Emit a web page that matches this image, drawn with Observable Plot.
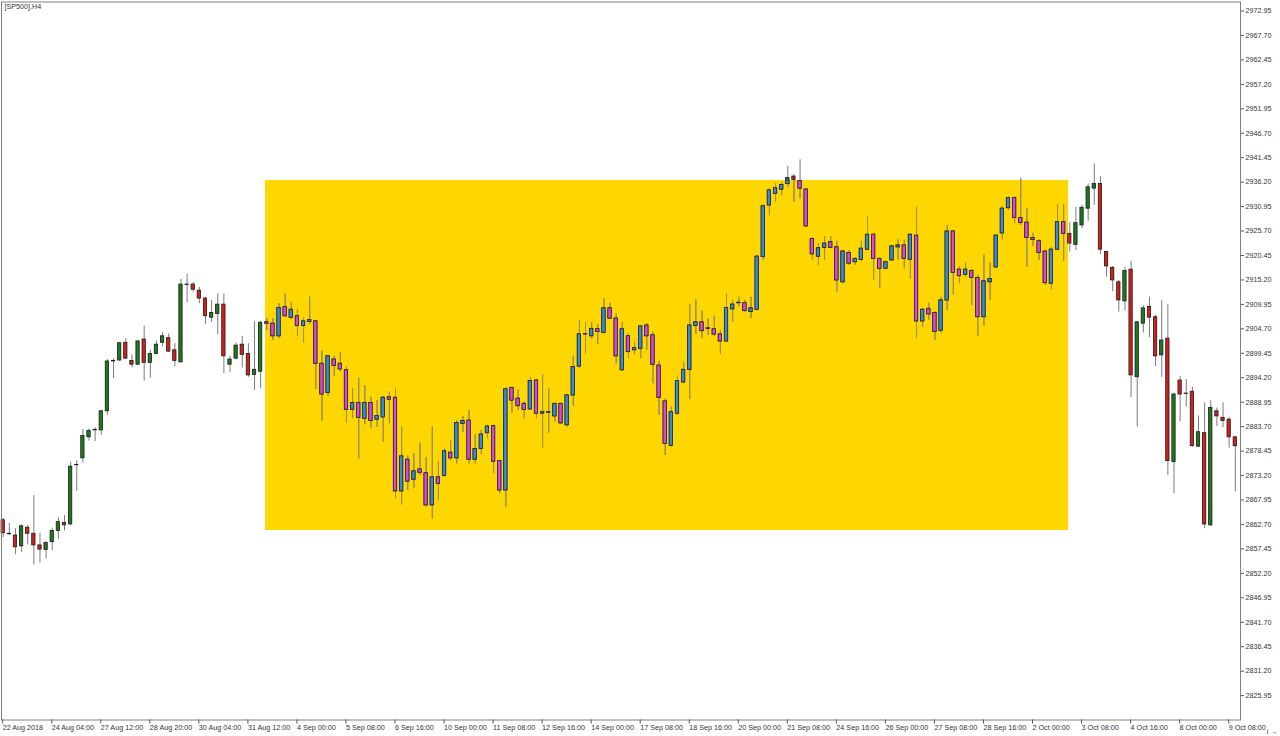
<!DOCTYPE html>
<html>
<head>
<meta charset="utf-8">
<script src="https://cdn.jsdelivr.net/npm/d3@7"></script>
<script src="https://cdn.jsdelivr.net/npm/@observablehq/plot@0.6"></script>
<style>
  html, body { margin: 0; padding: 0; background: #fff; }
  #chart svg { display: block; }
</style>
</head>
<body>
<div id="chart"></div>
<script>
// SP500 H4 bars, 22 Aug 2018 20:00 -> 9 Oct 2018 12:00
const opens = [
  2863.6, 2860.7, 2860.3, 2858.0, 2862.0, 2860.7, 2858.2, 2857.2, 2858.9, 2861.3,
  2863.0, 2862.7, 2875.4, 2876.9, 2881.4, 2882.9, 2882.9, 2887.0, 2897.7, 2897.9,
  2901.7, 2897.8, 2897.0, 2902.4, 2897.4, 2899.3, 2901.7, 2902.7, 2900.1, 2897.5,
  2914.1, 2914.2, 2912.9, 2911.2, 2907.1, 2907.9, 2909.9, 2897.0, 2898.3, 2901.3,
  2899.3, 2894.8, 2895.5, 2906.1, 2905.8, 2903.1, 2909.4, 2907.1, 2907.4, 2905.3,
  2906.2, 2906.3, 2897.2, 2890.9, 2898.1, 2897.2, 2895.8, 2887.3, 2888.8, 2885.4,
  2888.8, 2885.2, 2885.7, 2890.0, 2889.9, 2869.8, 2876.6, 2872.3, 2874.5, 2873.7,
  2866.8, 2872.8, 2873.1, 2878.1, 2876.9, 2884.3, 2885.0, 2876.6, 2878.9, 2882.3,
  2883.8, 2876.3, 2870.0, 2892.0, 2889.7, 2888.6, 2887.4, 2893.6, 2886.5, 2886.7,
  2885.9, 2888.6, 2884.0, 2890.4, 2896.6, 2903.5, 2903.1, 2904.6, 2903.8, 2909.1,
  2906.9, 2895.8, 2903.1, 2900.1, 2900.4, 2905.4, 2903.3, 2896.8, 2889.1, 2879.6,
  2886.5, 2893.2, 2895.9, 2905.3, 2906.1, 2904.8, 2904.6, 2903.5, 2902.0, 2908.9,
  2910.2, 2910.2, 2908.3, 2908.8, 2920.1, 2931.2, 2933.7, 2934.6, 2935.8, 2937.4,
  2936.4, 2934.6, 2924.0, 2920.2, 2922.1, 2923.3, 2922.2, 2914.7, 2921.0, 2919.0,
  2919.5, 2921.7, 2924.9, 2919.7, 2917.6, 2919.4, 2922.2, 2922.6, 2919.5, 2924.7,
  2906.3, 2909.0, 2908.1, 2904.3, 2910.8, 2925.6, 2917.4, 2916.3, 2917.1, 2915.6,
  2907.2, 2914.7, 2917.9, 2925.2, 2930.6, 2932.8, 2928.5, 2927.5, 2924.2, 2923.5,
  2921.3, 2914.4, 2921.7, 2927.6, 2925.1, 2922.7, 2926.9, 2930.5, 2934.8, 2935.8,
  2921.2, 2917.8, 2914.7, 2910.6, 2917.4, 2894.3, 2905.8, 2909.4, 2907.2, 2899.0,
  2902.6, 2876.1, 2893.6, 2890.8, 2891.2, 2879.4, 2882.3, 2862.5, 2887.0, 2885.6,
  2885.2, 2881.4
];
const highs = [
  2864.0, 2862.9, 2861.8, 2862.6, 2862.5, 2868.9, 2860.8, 2859.0, 2861.9, 2864.1,
  2864.6, 2876.1, 2876.4, 2883.1, 2883.2, 2883.5, 2887.2, 2898.1, 2898.3, 2901.8,
  2902.6, 2899.1, 2902.1, 2905.3, 2900.1, 2902.1, 2903.9, 2903.6, 2901.5, 2915.3,
  2916.5, 2914.7, 2913.6, 2911.5, 2910.8, 2912.2, 2912.2, 2898.8, 2901.7, 2903.1,
  2901.5, 2906.3, 2906.3, 2906.9, 2906.9, 2910.1, 2912.2, 2910.4, 2908.8, 2907.0,
  2911.5, 2906.5, 2899.9, 2899.0, 2898.8, 2899.6, 2896.5, 2891.8, 2894.1, 2892.5,
  2890.0, 2889.3, 2890.2, 2891.1, 2891.8, 2883.6, 2877.4, 2877.9, 2880.2, 2877.1,
  2883.7, 2876.2, 2878.9, 2880.7, 2885.0, 2885.9, 2887.2, 2882.0, 2882.9, 2884.0,
  2884.0, 2876.4, 2892.0, 2892.2, 2891.5, 2889.0, 2894.3, 2893.8, 2894.8, 2891.8,
  2888.7, 2888.7, 2890.6, 2898.8, 2906.5, 2906.0, 2906.0, 2905.6, 2911.2, 2910.2,
  2907.9, 2906.1, 2903.6, 2901.8, 2905.4, 2905.8, 2904.0, 2897.7, 2889.7, 2887.9,
  2894.5, 2897.5, 2909.9, 2910.9, 2908.5, 2906.9, 2907.4, 2904.3, 2912.2, 2910.8,
  2911.5, 2910.8, 2911.5, 2920.5, 2931.3, 2934.8, 2935.8, 2936.0, 2939.6, 2937.8,
  2941.0, 2934.8, 2924.2, 2923.0, 2924.5, 2924.5, 2923.5, 2921.5, 2921.5, 2920.0,
  2923.5, 2928.8, 2925.1, 2920.0, 2919.2, 2922.6, 2923.8, 2923.7, 2925.1, 2930.8,
  2909.0, 2910.2, 2908.4, 2911.5, 2926.9, 2925.8, 2918.1, 2918.8, 2917.4, 2916.2,
  2920.5, 2918.8, 2924.9, 2931.0, 2933.0, 2933.0, 2937.1, 2930.5, 2925.2, 2923.8,
  2921.5, 2922.2, 2931.4, 2931.4, 2927.5, 2930.8, 2931.2, 2935.8, 2940.1, 2937.4,
  2921.3, 2918.1, 2915.1, 2917.9, 2919.2, 2906.3, 2909.7, 2911.5, 2907.6, 2910.8,
  2909.9, 2890.9, 2894.5, 2893.8, 2892.2, 2886.0, 2888.8, 2889.3, 2887.7, 2888.8,
  2885.7, 2881.6
];
const lows = [
  2859.9, 2860.3, 2856.2, 2856.7, 2858.3, 2854.0, 2854.4, 2855.3, 2857.1, 2859.5,
  2861.3, 2862.5, 2869.8, 2875.9, 2880.6, 2880.5, 2881.8, 2886.1, 2894.0, 2897.7,
  2898.1, 2896.3, 2896.8, 2893.5, 2894.1, 2899.1, 2900.8, 2899.7, 2896.5, 2897.4,
  2910.3, 2912.6, 2910.1, 2905.6, 2906.1, 2903.4, 2895.1, 2895.3, 2898.0, 2896.3,
  2894.3, 2891.5, 2891.8, 2904.3, 2902.2, 2902.6, 2907.2, 2906.7, 2903.1, 2901.6,
  2905.6, 2891.7, 2884.9, 2890.2, 2894.5, 2895.4, 2884.4, 2885.4, 2876.8, 2884.1,
  2883.4, 2883.5, 2880.4, 2884.3, 2868.2, 2866.9, 2870.0, 2870.4, 2873.2, 2866.4,
  2863.9, 2867.8, 2872.8, 2876.4, 2875.7, 2882.5, 2875.7, 2875.7, 2877.7, 2881.1,
  2873.7, 2869.3, 2866.3, 2886.6, 2887.2, 2885.4, 2887.2, 2885.4, 2879.1, 2882.3,
  2884.7, 2884.3, 2883.6, 2888.1, 2896.3, 2899.3, 2902.4, 2901.3, 2903.6, 2906.7,
  2897.2, 2895.6, 2898.3, 2899.1, 2898.3, 2900.1, 2892.9, 2886.1, 2877.5, 2879.3,
  2886.1, 2892.9, 2889.5, 2903.5, 2902.6, 2903.3, 2903.1, 2899.2, 2901.8, 2906.1,
  2909.4, 2908.3, 2906.9, 2908.6, 2919.4, 2929.0, 2931.9, 2933.3, 2935.0, 2931.9,
  2932.6, 2926.5, 2919.5, 2918.3, 2919.4, 2921.9, 2912.6, 2914.4, 2918.3, 2918.3,
  2919.2, 2921.5, 2915.2, 2913.3, 2917.4, 2919.2, 2919.5, 2917.6, 2915.4, 2902.6,
  2905.0, 2906.5, 2902.2, 2903.8, 2908.6, 2912.0, 2914.4, 2915.8, 2909.7, 2903.1,
  2905.2, 2910.8, 2917.7, 2923.8, 2930.1, 2927.3, 2926.9, 2917.9, 2922.4, 2919.4,
  2914.0, 2913.1, 2921.5, 2919.2, 2921.2, 2921.5, 2926.2, 2927.8, 2931.2, 2920.7,
  2915.8, 2912.7, 2908.3, 2908.6, 2889.9, 2883.6, 2903.8, 2902.8, 2896.6, 2894.3,
  2873.2, 2869.3, 2884.7, 2887.9, 2879.3, 2879.2, 2861.8, 2862.3, 2883.7, 2883.5,
  2879.1, 2869.7
];
const closes = [
  2860.8, 2860.6, 2857.8, 2862.3, 2860.7, 2858.2, 2857.3, 2858.7, 2861.3, 2863.2,
  2862.5, 2875.1, 2875.5, 2881.7, 2882.8, 2883.0, 2887.0, 2897.7, 2897.8, 2901.6,
  2898.3, 2897.0, 2902.0, 2897.4, 2899.3, 2901.3, 2903.1, 2899.8, 2897.8, 2914.2,
  2914.2, 2913.1, 2911.2, 2907.4, 2908.1, 2909.9, 2898.8, 2898.1, 2901.1, 2899.1,
  2894.7, 2895.9, 2906.0, 2905.8, 2903.1, 2909.2, 2907.4, 2908.8, 2905.3, 2906.3,
  2906.6, 2897.2, 2890.6, 2898.8, 2896.7, 2896.0, 2887.3, 2888.8, 2885.6, 2888.8,
  2884.9, 2886.0, 2889.9, 2889.5, 2869.8, 2877.3, 2871.9, 2874.1, 2873.8, 2866.8,
  2872.8, 2871.4, 2878.4, 2876.9, 2884.5, 2884.9, 2876.6, 2878.9, 2882.0, 2883.7,
  2876.2, 2870.0, 2891.7, 2889.3, 2888.1, 2887.3, 2893.5, 2886.5, 2886.8, 2886.8,
  2888.6, 2884.4, 2890.4, 2896.5, 2903.5, 2903.6, 2904.7, 2904.0, 2909.1, 2906.9,
  2898.8, 2904.6, 2899.7, 2900.6, 2905.2, 2903.1, 2897.0, 2889.9, 2880.0, 2886.8,
  2893.5, 2895.9, 2905.4, 2906.1, 2904.2, 2904.7, 2903.5, 2902.0, 2909.2, 2909.9,
  2910.3, 2908.5, 2909.1, 2920.2, 2931.0, 2934.4, 2934.9, 2935.6, 2937.1, 2936.7,
  2934.8, 2926.7, 2920.7, 2922.0, 2923.0, 2922.1, 2915.1, 2921.3, 2918.7, 2919.7,
  2921.9, 2924.9, 2919.7, 2917.6, 2919.0, 2922.4, 2922.6, 2919.7, 2924.9, 2906.3,
  2908.8, 2907.8, 2904.0, 2910.8, 2925.6, 2916.7, 2916.0, 2917.4, 2915.6, 2907.2,
  2914.9, 2915.4, 2924.7, 2930.5, 2932.8, 2928.5, 2927.4, 2924.2, 2923.8, 2921.0,
  2914.5, 2921.7, 2927.6, 2925.1, 2923.0, 2927.4, 2930.7, 2935.1, 2935.8, 2921.7,
  2918.1, 2915.1, 2910.8, 2917.1, 2894.7, 2906.1, 2909.1, 2907.1, 2898.8, 2902.2,
  2876.3, 2890.6, 2890.6, 2890.7, 2879.5, 2882.5, 2862.7, 2887.7, 2885.9, 2884.9,
  2881.4, 2879.5
];

// time axis: one label every 8 bars
const xTickBars = [0, 8, 16, 24, 32, 40, 48, 56, 64, 72, 80, 88, 96, 104, 112, 120, 128, 136, 144, 152, 160, 168, 176, 184, 192, 200];
const xTickLabels = [
  "22 Aug 2018", "24 Aug 04:00", "27 Aug 12:00", "28 Aug 20:00", "30 Aug 04:00", "31 Aug 12:00",
  "4 Sep 00:00", "5 Sep 08:00", "6 Sep 16:00", "10 Sep 00:00", "11 Sep 08:00", "12 Sep 16:00",
  "14 Sep 00:00", "17 Sep 08:00", "18 Sep 16:00", "20 Sep 00:00", "21 Sep 08:00", "24 Sep 16:00",
  "26 Sep 00:00", "27 Sep 08:00", "28 Sep 16:00", "2 Oct 00:00", "3 Oct 08:00", "4 Oct 16:00",
  "8 Oct 00:00", "9 Oct 08:00"
];
const yTicks = [
  2972.95, 2967.70, 2962.45, 2957.20, 2951.95, 2946.70, 2941.45, 2936.20, 2930.95, 2925.70,
  2920.45, 2915.20, 2909.95, 2904.70, 2899.45, 2894.20, 2888.95, 2883.70, 2878.45, 2873.20,
  2867.95, 2862.70, 2857.45, 2852.20, 2846.95, 2841.70, 2836.45, 2831.20, 2825.95
];

// the range rectangle drawn on the chart (bars, prices)
const boxBars = [42.8, 173.8];
const boxPrices = [2861.4, 2936.55];

const halfBody = 0.27;
const labelByBar = new Map(xTickBars.map((b, k) => [b, xTickLabels[k]]));

const candles = opens.map((o, i) => ({
  i, open: o, high: highs[i], low: lows[i], close: closes[i], up: closes[i] >= o
}));

// part of each candle that sits inside the rectangle gets the inverted colours
const [boxLow, boxHigh] = boxPrices;
const inside = candles
  .filter(d => d.i >= boxBars[0] && d.i <= boxBars[1])
  .map(d => ({
    ...d,
    bodyLo: Math.max(Math.min(d.open, d.close), boxLow),
    bodyHi: Math.min(Math.max(d.open, d.close), boxHigh),
    wickLo: Math.max(d.low, boxLow),
    wickHi: Math.min(d.high, boxHigh)
  }));

const chart = Plot.plot({
  width: 1280,
  height: 736,
  marginLeft: 1,
  marginRight: 40,
  marginTop: 1.5,
  marginBottom: 16.5,
  style: {
    background: "#fff",
    fontFamily: "'Liberation Sans', Arial, sans-serif",
    fontSize: "7.2px",
    color: "#333"
  },
  x: { type: "linear", domain: [-0.277, 201.85] },
  y: { domain: [2820.71, 2974.88] },
  color: { type: "identity" },
  marks: [
    Plot.rect([boxBars], {
      x1: d => d[0], x2: d => d[1],
      y1: () => boxLow, y2: () => boxHigh,
      fill: "#FFD700"
    }),
    // wicks
    Plot.ruleX(candles, { x: "i", y1: "low", y2: "high", stroke: "#7c7c7c", strokeWidth: 1 }),
    Plot.ruleX(inside.filter(d => d.wickHi > d.wickLo), {
      x: "i", y1: "wickLo", y2: "wickHi", stroke: "#a2915a", strokeWidth: 1
    }),
    // bodies
    Plot.rect(candles, {
      x1: d => d.i - halfBody, x2: d => d.i + halfBody,
      y1: "open", y2: "close",
      fill: d => d.up ? "#1c7a1c" : "#d41e1e",
      stroke: "#1b1b1b", strokeWidth: 0.8
    }),
    Plot.rect(inside.filter(d => d.bodyHi > d.bodyLo), {
      x1: d => d.i - halfBody, x2: d => d.i + halfBody,
      y1: "bodyLo", y2: "bodyHi",
      fill: d => d.up ? "#2f8fde" : "#df44e4",
      stroke: "#2c2c4a", strokeWidth: 0.8
    }),
    Plot.frame({ stroke: "#808080" }),
    Plot.axisY(yTicks, {
      anchor: "right", tickSize: 3, tickPadding: 2,
      tickFormat: d => d.toFixed(2), stroke: "#555", fill: "#333"
    }),
    Plot.axisX(xTickBars, {
      anchor: "bottom", tickSize: 4, tickPadding: 1,
      tickFormat: d => labelByBar.get(d),
      textAnchor: "start", dx: -0.5, stroke: "#555", fill: "#333"
    }),
    Plot.text(["[SP500],H4"], {
      frameAnchor: "top-left", dx: 3, dy: 2, fill: "#333"
    })
  ]
});

document.getElementById("chart").append(chart);
</script>
</body>
</html>
